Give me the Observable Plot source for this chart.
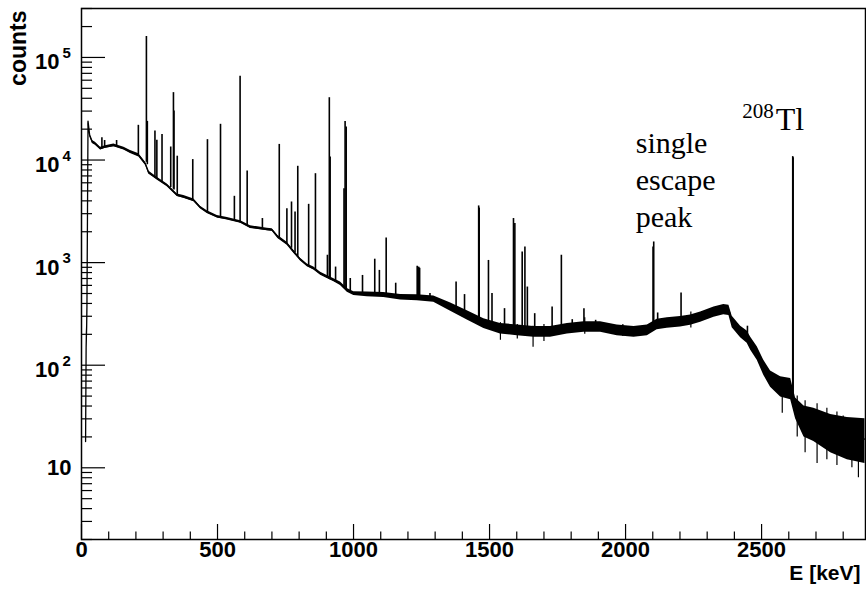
<!DOCTYPE html>
<html><head><meta charset="utf-8">
<script src="https://cdn.jsdelivr.net/npm/d3@7"></script>
<script src="https://cdn.jsdelivr.net/npm/@observablehq/plot@0.6"></script>
<style>body{margin:0;background:#fff} svg{display:block}</style>
</head><body><div id="chart"></div>
<script>
// Continuum (energy in keV, counts; lower/upper edge of the noise band)
const contE      = [15,17,19,20,22,24,30,40,51,70,88,119,156,180,211,235,247,278,315,352,376,413,437,462,499,536,585,621,683,701,722,756,781,805,830,854,879,903,928,952,977,1001,1050,1111,1173,1234,1295,1357,1418,1479,1540,1602,1663,1724,1786,1847,1908,1969,2031,2080,2116,2153,2202,2239,2276,2325,2361,2380,2392,2423,2447,2460,2484,2508,2533,2570,2607,2625,2656,2692,2754,2815,2880];
const contCounts = [18,150,240,370,3000,24000,17500,15000,14400,12900,13400,13900,12900,12000,11100,9200,7550,6600,5670,4530,4360,4050,3450,3110,2800,2680,2490,2220,2100,2080,1780,1530,1270,1070,940,875,780,725,672,624,537,499,491,485,460,455,440,369,306,254,227,219,211,211,227,236,236,219,211,219,250,258,265,275,295,330,348,343,264,211,188,162,130,96,74,61,59,39,28,26,22,20,19];
const contLow    = [18,150,230,300,3000,22500,17000,14500,13900,12500,13000,13500,12500,11600,10700,8900,7300,6400,5500,4400,4230,3930,3350,3020,2720,2600,2420,2150,2040,2020,1720,1480,1230,1035,910,845,755,700,650,600,515,478,465,458,432,425,410,336,276,228,202,194,187,187,202,210,210,194,187,194,222,229,236,245,263,294,310,305,232,185,164,140,112,80,61,49,46,30,20,18,14,12,11];
const contHigh   = [18,150,300,370,3000,24000,18000,15500,14900,13300,13800,14300,13300,12400,11500,9500,7800,6800,5850,4670,4500,4170,3550,3200,2880,2760,2560,2290,2160,2140,1840,1580,1310,1105,970,905,805,750,695,648,560,520,518,512,490,487,472,405,340,283,255,247,238,238,255,265,265,247,238,247,281,290,298,309,331,370,390,385,300,240,215,187,151,112,88,77,74,48,40,38,33,31,30];

// Single-bin noise excursions (energy, lowest and highest counts reached)
const spikeE    = [1540,1602,1660,1700,1850,1990,2240,2576,2631,2660,2704,2740,2777,2800,2832,2856];
const spikeLow  = [175,180,150,170,200,190,230,34,20,14,11,12,10.5,13,10,8];
const spikeHigh = [260,250,240,250,290,250,330,75,50,45,42,38,35,32,30,30];

// Peaks (energy in keV, peak-top counts, continuum under the peak)
const peakE    = [75,85,129,209,238.6,242,270,277,296,328,338,340,352,409,463,511,562,583,609,665,727,755,772,785,795,835,860,904,911,914,934,965,969,973,988,1033,1078,1095,1120,1155,1234,1237,1240,1243,1281,1377,1408,1460,1462,1496,1509,1555,1588,1593,1620,1630,1639,1666,1730,1764,1804,1847,1890,2101,2103.5,2118,2204,2448,2614.5,2616];
const peakTop  = [16500,15500,15500,21800,160000,23800,19200,15600,17700,13400,45400,30000,10900,10100,15800,22300,4430,65500,7810,2690,14200,3360,3900,3110,8690,3700,7360,1180,40500,10700,905,5260,23800,21000,700,750,1080,840,1740,630,920,900,900,880,500,647,488,3570,3400,1050,499,356,2690,2400,1270,1420,578,318,369,1180,278,356,274,1420,1590,323,506,240,10800,10500];
const peakBase = [13000,13200,13700,11300,9500,9000,6700,6500,6100,5400,5200,5100,4500,4000,3100,2750,2550,2450,2300,2100,1700,1500,1380,1250,1150,920,850,700,690,680,650,580,570,560,515,490,485,485,480,470,450,450,450,450,440,350,300,250,250,230,225,220,215,215,215,213,212,210,211,215,225,235,235,225,225,245,262,185,55,45];

// Axis ticks and labels
const xMajor = [0,500,1000,1500,2000,2500];
const yMajor = [10,100,1000,10000,100000];
const yExponent = ["","2","3","4","5"];
const xMinor = d3.range(0, 2900, 100).filter(v => v % 500 !== 0);
const yMinor = [];
for (const dec of [1,10,100,1000,10000,100000]) for (let k = 2; k <= 9; k++) { const v = k*dec; if (v >= 2 && v <= 3e5) yMinor.push(v); }

const cont = contE.map((E,i) => ({E, c: contCounts[i], lo: contLow[i], hi: contHigh[i]}));
const spikes = spikeE.map((E,i) => ({E, lo: spikeLow[i], hi: spikeHigh[i]}));
const peaks = peakE.map((E,i) => ({E, top: peakTop[i], base: peakBase[i]}));
const yLabels = yMajor.map((v,i) => ({v, exp: yExponent[i]}));
const sep = peaks.find(p => p.E === 2103.5);
const tl = peaks.find(p => p.E === 2614.5);

const W = 866, H = 597, mL = 81, mR = 1, mT = 8, mB = 58;
const fw = W - mL - mR, fh = H - mT - mB;
const sans = "'Liberation Sans', Arial, Helvetica, sans-serif";
const serif = "'Liberation Serif', 'Times New Roman', serif";

const chart = Plot.plot({
  width: W, height: H,
  marginLeft: mL, marginRight: mR, marginTop: mT, marginBottom: mB,
  style: {fontFamily: sans, background: "white", color: "black"},
  x: {domain: [0, 2882], axis: null},
  y: {type: "log", domain: [2, 3e5], axis: null},
  marks: [
    Plot.areaY(cont, {x: "E", y1: "lo", y2: "hi", fill: "black", curve: "linear"}),
    Plot.line(cont, {x: "E", y: "c", stroke: "black", strokeWidth: 1.3}),
    Plot.ruleX(spikes, {x: "E", y1: "lo", y2: "hi", stroke: "black", strokeWidth: 1.2}),
    Plot.ruleX(peaks, {x: "E", y1: "base", y2: "top", stroke: "black", strokeWidth: 1.6}),
    // ticks (inside the frame)
    Plot.tickY(yMajor, {y: d => d, stroke: "black", strokeWidth: 1.2, insetRight: fw - 24}),
    Plot.tickY(yMinor, {y: d => d, stroke: "black", strokeWidth: 1.2, insetRight: fw - 11}),
    Plot.tickX(xMajor, {x: d => d, stroke: "black", strokeWidth: 1.2, insetTop: fh - 15}),
    Plot.tickX(xMinor, {x: d => d, stroke: "black", strokeWidth: 1.2, insetTop: fh - 7.5}),
    Plot.frame({stroke: "black", strokeWidth: 1.5}),
    // y tick labels
    Plot.text(yLabels.filter(d => d.exp === ""), {y: "v", text: d => "10", frameAnchor: "left", textAnchor: "end", dx: -10, fontSize: 22, fontWeight: "bold"}),
    Plot.text(yLabels.filter(d => d.exp !== ""), {y: "v", text: d => "10", frameAnchor: "left", textAnchor: "end", dx: -22, dy: 5, fontSize: 22, fontWeight: "bold"}),
    Plot.text(yLabels.filter(d => d.exp !== ""), {y: "v", text: "exp", frameAnchor: "left", textAnchor: "start", dx: -19, dy: -4, fontSize: 15, fontWeight: "bold"}),
    // x tick labels
    Plot.text(xMajor, {x: d => d, text: d => String(d), frameAnchor: "bottom", dy: 17.5, fontSize: 22, fontWeight: "bold"}),
    // axis titles
    Plot.text(["E [keV]"], {text: d => d, frameAnchor: "bottom-right", textAnchor: "end", dx: -5, dy: 40.5, fontSize: 21, fontWeight: "bold"}),
    Plot.text(["counts"], {text: d => d, frameAnchor: "top-left", rotate: -90, textAnchor: "end", dx: -72, dy: 2, fontSize: 23, fontWeight: "bold"}),
    // annotations
    Plot.text([sep], {x: "E", y: "top", text: d => "single\nescape\npeak", textAnchor: "start", lineAnchor: "bottom", lineHeight: 1.23, dx: -18, dy: -15, fontSize: 30, fontFamily: serif}),
    Plot.text([tl], {x: "E", y: "top", text: d => "Tl", textAnchor: "start", lineAnchor: "bottom", dx: -17, dy: -27, fontSize: 32, fontFamily: serif}),
    Plot.text([tl], {x: "E", y: "top", text: d => "208", textAnchor: "end", lineAnchor: "bottom", dx: -19, dy: -39, fontSize: 21, fontFamily: serif})
  ]
});
document.getElementById("chart").appendChild(chart);
</script>
</body></html>
